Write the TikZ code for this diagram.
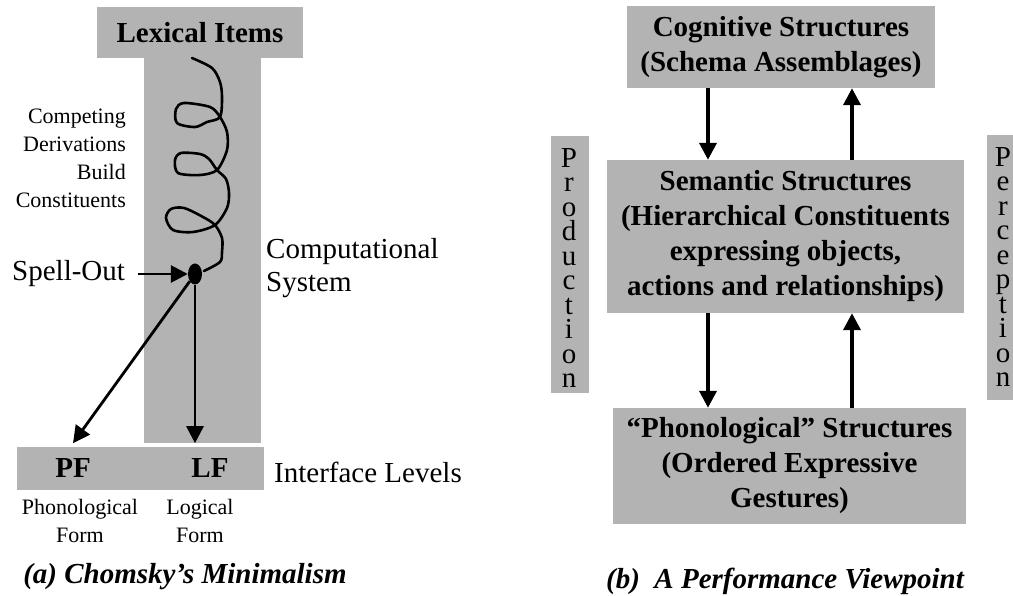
\documentclass[tikz,border=0pt]{standalone}
\usepackage{fontspec}
\IfFontExistsTF{Liberation Serif Bold}{%
  \setmainfont{Liberation Serif}[
    BoldFont={Liberation Serif Bold},
    ItalicFont={Liberation Serif Italic},
    BoldItalicFont={Liberation Serif Bold Italic}]%
}{%
  \setmainfont{Liberation Serif}[
    BoldFont={Liberation Serif},
    BoldFeatures={FakeBold=1.6, FakeStretch=1.07},
    BoldItalicFont={Liberation Serif},
    BoldItalicFeatures={FakeBold=1.6, FakeSlant=0.22, FakeStretch=1.02}]%
}
\usetikzlibrary{arrows.meta,shapes.geometric}
\definecolor{boxgray}{RGB}{179,179,179}
\tikzset{
  gbox/.style={fill=boxgray, draw=none, inner sep=0pt, align=center},
  bigtxt/.style={font=\fontsize{29}{33}\selectfont, inner sep=0pt, align=left},
  boldtxt/.style={font=\fontsize{29}{35}\selectfont\bfseries},
  smalltxt/.style={font=\fontsize{22}{28}\selectfont, inner sep=0pt},
  arrl/.style={line width=2.8pt, -{Triangle[length=17pt,width=17pt]}},
  arrr/.style={line width=3.8pt, -{Triangle[length=17pt,width=17pt]}},
  coil/.style={line width=2.6pt, line join=round, line cap=round},
  vert/.style={font=\fontsize{29}{24.5}\selectfont, align=center, inner sep=0pt},
  captxt/.style={font=\fontsize{29}{35}\selectfont\bfseries\itshape, inner sep=0pt}
}
\begin{document}
\begin{tikzpicture}[x=1pt,y=-1pt]
\useasboundingbox (0,0) rectangle (1013,596);

% ---------- (a) Chomsky's Minimalism ----------
\node[gbox, minimum width=117pt, minimum height=386pt] (bar) at (202.5,250) {};
\node[gbox, boldtxt, minimum width=206pt, minimum height=51pt] (lex) at (200,32.5) {Lexical Items};
\node[gbox, minimum width=247pt, minimum height=43pt] (pflf) at (140.5,468.5) {};
\node[boldtxt, inner sep=0pt] (pf) at (73,468) {PF};
\node[boldtxt, inner sep=0pt] (lf) at (210,468) {LF};

% derivation coil
\draw[coil] plot[smooth, tension=0.5] coordinates {
  (192,58) (212,68) (220,82) (222,97) (220,117)
  (207,122) (195,127) (177,123) (176,109) (184,103) (210,107) (220,117)
  (227,132) (227,150) (217,170)
  (200,175) (178,173) (175,160) (181,153) (200,154) (209,159) (217,170)
  (226,179) (229,193) (227,208) (215,225)
  (193,232) (173,230) (166,218) (171,209) (184,208) (203,217) (215,225)
  (222,238) (222,252) (220,262) (204,271)};

\node[ellipse, fill=black, inner sep=0pt, minimum width=14pt, minimum height=21pt] (dot) at (195,274) {};

\node[bigtxt, anchor=west] (spell) at (12,274) {Spell-Out};
\node[bigtxt, anchor=west] (comp) at (266,268) {Computational\\System};
\node[smalltxt, anchor=north east, align=right] (compet) at (126,109)
  {Competing\\Derivations\\Build\\Constituents};
\node[bigtxt, anchor=west] (iface) at (274,472) {Interface Levels};
\node[smalltxt, anchor=north, align=center] (phf) at (80,499) {Phonological\\Form};
\node[smalltxt, anchor=north, align=center] (lgf) at (200,499) {Logical\\Form};
\node[captxt] (capa) at (185,577) {(a) Chomsky’s Minimalism};

\draw[arrl] (spell.east -| 138,0) -- (dot.west);
\draw[arrl] (dot) -- (pf |- bar.south);
\draw[arrl] (dot) -- (dot |- bar.south);

% ---------- (b) A Performance Viewpoint ----------
\node[gbox, boldtxt, minimum width=308pt, minimum height=82pt] (cog) at (781,47)
  {Cognitive Structures\\(Schema Assemblages)};
\node[gbox, boldtxt, minimum width=357pt, minimum height=153pt] (sem) at (785.5,236.5)
  {Semantic Structures\\(Hierarchical Constituents\\expressing objects,\\actions and relationships)};
\node[gbox, boldtxt, minimum width=353pt, minimum height=116pt] (pho) at (789.5,466)
  {“Phonological” Structures\\(Ordered Expressive\\Gestures)};

\node[gbox, minimum width=38pt, minimum height=257pt] (prodbox) at (570,264.5) {};
\node[vert] (prod) at (569,268) {P\\r\\o\\d\\u\\c\\t\\i\\o\\n};
\node[gbox, minimum width=32pt, minimum height=265pt] (percbox) at (1003,267.5) {};
\node[vert] (perc) at (1003,267) {P\\e\\r\\c\\e\\p\\t\\i\\o\\n};

\coordinate (xd) at (708,0);
\coordinate (xu) at (852,0);
\draw[arrr] (cog.south -| xd) -- (sem.north -| xd);
\draw[arrr] (sem.north -| xu) -- (cog.south -| xu);
\draw[arrr] (sem.south -| xd) -- (pho.north -| xd);
\draw[arrr] (pho.north -| xu) -- (sem.south -| xu);

\node[captxt] (capb) at (785,581) {(b)\ \ A Performance Viewpoint};
\end{tikzpicture}
\end{document}
